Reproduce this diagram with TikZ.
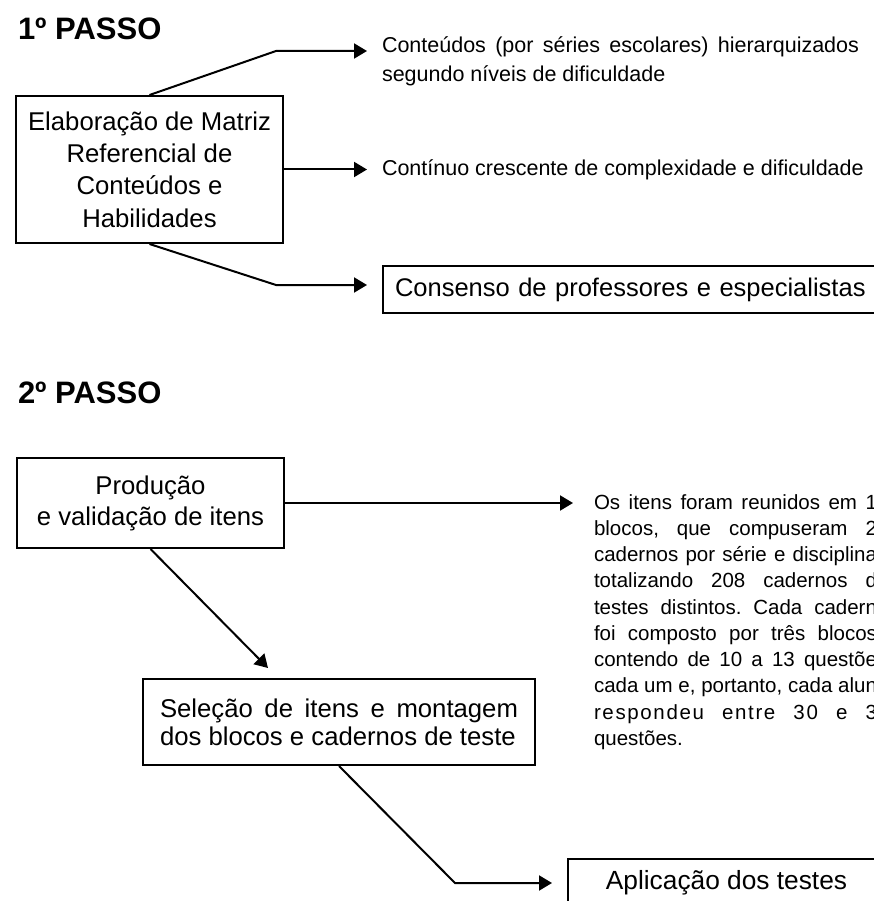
\documentclass[tikz,border=0pt]{standalone}
\usepackage{fontspec}
\setmainfont{Liberation Sans}
\usetikzlibrary{positioning,arrows.meta}
\frenchspacing

\begin{document}
\begin{tikzpicture}[x=1pt,y=-1pt,line width=2pt,
  caixa/.style={draw,inner sep=0pt,align=center},
  texto/.style={inner sep=0pt,anchor=base west},
  passo/.style={inner sep=0pt,anchor=base west,font=\bfseries\fontsize{31}{36}\selectfont},
  seta/.style={-{Triangle[length=13pt,width=15pt]}}]
  \useasboundingbox (0,0) rectangle (874,901);
  \fill[white] (0,0) rectangle (874,901);
  \clip (0,0) rectangle (874,901);

  \node[passo] (p1) at (17,40) {1º PASSO};
  \node[caixa,minimum width=267pt,minimum height=147pt,font=\fontsize{25.7}{32.3}\selectfont] (matriz) at (149.5,169.5) {Elaboração de Matriz\\Referencial de\\Conteúdos e\\Habilidades};
  \node[texto,text width=477pt,align=justify,font=\fontsize{21.5}{29}\selectfont] (conteudos) at (381,53) {Conteúdos (por séries escolares) hierarquizados segundo níveis de dificuldade};
  \node[texto,font=\fontsize{21.5}{29}\selectfont] (continuo) at (381,176) {Contínuo crescente de complexidade e dificuldade};
  \node[caixa,anchor=west,minimum height=47pt,text width=496pt,inner xsep=12pt,align=left,font=\fontsize{25.5}{30}\selectfont] (consenso) at (382,289.5) {Consenso de professores e especialistas};
  \coordinate (k1) at (276,51);
  \coordinate (k2) at (276,285);
  \coordinate (t1) at (367,51);
  \coordinate (t2) at (367,169.5);
  \coordinate (t3) at (367,285);
  \draw[seta] (matriz.north) -- (k1) -- (t1);
  \draw[seta] (matriz.east) -- (t2);
  \draw[seta] (matriz.south) -- (k2) -- (t3);

  \node[passo] (p2) at (17,403) {2º PASSO};
  \node[caixa,minimum width=267pt,minimum height=90pt,font=\fontsize{25.7}{31}\selectfont] (producao) at (150.5,503) {Produção\\e validação de itens};
  \node[texto,text width=283pt,align=justify,font=\fontsize{20.5}{26.25}\selectfont] (blocos) at (593,509) {Os itens foram reunidos em 1\linebreak blocos, que compuseram 2\linebreak cadernos por série e disciplina\linebreak totalizando 208 cadernos d\linebreak testes distintos. Cada cadern\linebreak foi composto por três blocos\linebreak contendo de 10 a 13 questõe\linebreak cada um e, portanto, cada alun\linebreak {\addfontfeature{LetterSpace=8}respondeu entre 30 e 3}\linebreak questões.};
  \node[caixa,minimum width=392pt,minimum height=86pt,text width=358pt,align=justify,font=\fontsize{25.7}{28}\selectfont] (selecao) at (339,722) {Seleção de itens e montagem\linebreak dos blocos e cadernos de teste};
  \node[caixa,minimum width=317pt,minimum height=48pt,font=\fontsize{26.3}{30}\selectfont] (aplicacao) at (726.5,883) {Aplicação dos testes};
  \coordinate (t4) at (573,503);
  \coordinate (t5) at (268,668);
  \coordinate (k3) at (455,883);
  \draw[seta] (producao.east) -- (t4);
  \draw[seta] (producao.south) -- (t5);
  \draw[seta,shorten >=15pt] (selecao.south) -- (k3) -- (aplicacao.west);
\end{tikzpicture}
\end{document}
